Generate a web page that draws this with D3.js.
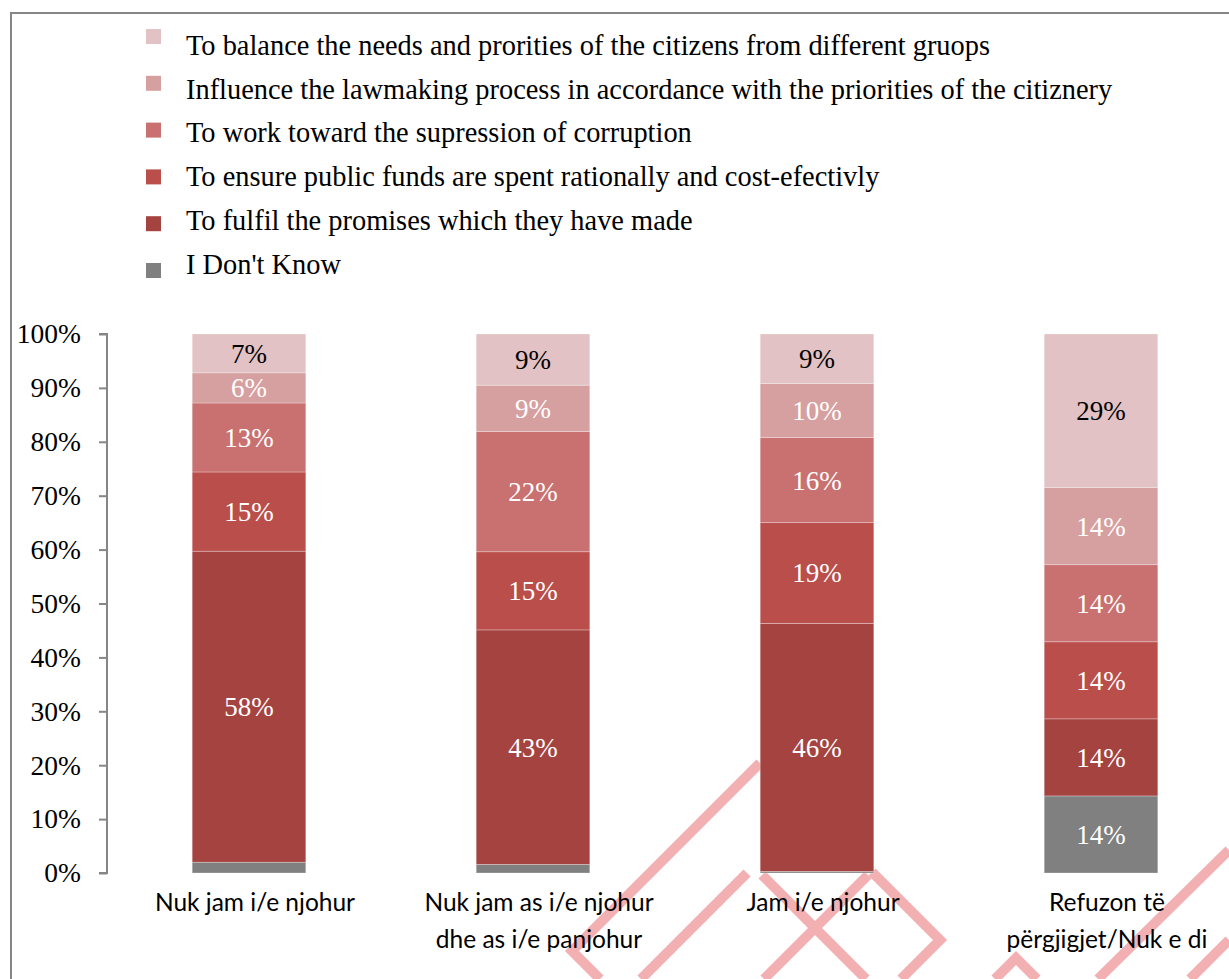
<!DOCTYPE html>
<html>
<head>
<meta charset="utf-8">
<script src="https://cdn.jsdelivr.net/npm/d3@7"></script>
<style>
  html, body { margin: 0; padding: 0; background: #fff; }
  svg { display: block; }
</style>
</head>
<body>
<svg id="chart" width="1229" height="979"></svg>
<script>
// ---------- data ----------
const categories = ["Nuk jam i/e njohur", "Nuk jam as i/e njohur dhe as i/e panjohur", "Jam i/e njohur", "Refuzon të përgjigjet/Nuk e di"];
const categoryLines = [["Nuk jam i/e njohur"], ["Nuk jam as i/e njohur", "dhe as i/e panjohur"], ["Jam i/e njohur"], ["Refuzon të", "përgjigjet/Nuk e di"]];

const seriesNames = [
  "I Don't Know",
  "To fulfil the promises which they have made",
  "To ensure public funds are spent rationally and cost-efectivly",
  "To work toward the supression of corruption",
  "Influence the lawmaking process in accordance with the priorities of the citiznery",
  "To balance the needs and prorities of the citizens from different gruops"
];
const dontKnow   = [2.0, 1.6, 0.3, 14.3];
const fulfil     = [57.7, 43.5, 46.0, 14.3];
const funds      = [14.7, 14.5, 18.7, 14.3];
const corruption = [12.8, 22.3, 15.8, 14.3];
const lawmaking  = [5.6, 8.6, 10.0, 14.3];
const balance    = [7.2, 9.5, 9.2, 28.5];

const dontKnowLabels   = ["", "", "", "14%"];
const fulfilLabels     = ["58%", "43%", "46%", "14%"];
const fundsLabels      = ["15%", "15%", "19%", "14%"];
const corruptionLabels = ["13%", "22%", "16%", "14%"];
const lawmakingLabels  = ["6%", "9%", "10%", "14%"];
const balanceLabels    = ["7%", "9%", "9%", "29%"];

const yTicks = [0, 10, 20, 30, 40, 50, 60, 70, 80, 90, 100];
const colors = ["#808080", "#A54341", "#B94E4B", "#C87170", "#D7A0A0", "#E2C2C4"];
const labelColors = ["#fff", "#fff", "#fff", "#fff", "#fff", "#000"];

// watermark (decorative background pattern)
const watermark = [
  [[600,979],[572,951],[760,763]],
  [[641,979],[747,873]],
  [[762,875],[866,979]],
  [[868,875],[764,979]],
  [[872,872],[940,940],[901,979]],
  [[995,979],[1016,958],[1037,979]],
  [[1098,979],[1229,850]],
  [[1190,979],[1229,940]]
];

// ---------- build ----------
const allSeries = [dontKnow, fulfil, funds, corruption, lawmaking, balance];
const allLabels = [dontKnowLabels, fulfilLabels, fundsLabels, corruptionLabels, lawmakingLabels, balanceLabels];
const keys = seriesNames;
const table = categories.map((c, i) => {
  const row = { category: c };
  keys.forEach((k, j) => row[k] = allSeries[j][i]);
  return row;
});
const stacked = d3.stack().keys(keys)(table);

const svg = d3.select("#chart");
const serif = "'Liberation Serif', 'Times New Roman', serif";
const sans = "Lato, 'Open Sans', sans-serif";

// watermark behind everything
svg.append("g").selectAll("polyline").data(watermark).join("polyline")
  .attr("points", d => d.map(p => p.join(",")).join(" "))
  .attr("fill", "none").attr("stroke", "#F3B0B2").attr("stroke-width", 10)
  .attr("stroke-linejoin", "miter").attr("stroke-linecap", "butt");

// outer border
svg.append("rect").attr("x", 11).attr("y", 13).attr("width", 1240).attr("height", 1000)
  .attr("fill", "none").attr("stroke", "#868686").attr("stroke-width", 2);

const x = d3.scaleBand().domain(categories).range([107, 1243]).paddingInner(0.6).paddingOuter(0.3);
const y = d3.scaleLinear().domain([0, 100]).range([873, 334]);

// y axis
const yAxis = svg.append("g").attr("transform", "translate(107,0)")
  .call(d3.axisLeft(y).tickValues(yTicks).tickFormat(d => d + "%").tickSize(8).tickPadding(18));
yAxis.select(".domain").attr("stroke", "#868686").attr("stroke-width", 2).attr("d", `M-8,${y(100)}H0V${y(0)}H-8`);
yAxis.selectAll(".tick line").attr("stroke", "#868686").attr("stroke-width", 2);
yAxis.selectAll(".tick text").attr("font-family", serif).attr("font-size", 27.5).attr("fill", "#000");

// bars
const layers = svg.append("g").selectAll("g").data(stacked).join("g")
  .attr("fill", (d, i) => colors[i]);
layers.selectAll("rect").data(d => d).join("rect")
  .attr("x", d => x(d.data.category))
  .attr("width", x.bandwidth())
  .attr("y", d => y(d[1]))
  .attr("height", d => y(d[0]) - y(d[1]))
  .attr("stroke", "rgba(255,255,255,0.35)").attr("stroke-width", 0.8);

// value labels
stacked.forEach((s, i) => {
  svg.append("g").selectAll("text").data(s).join("text")
    .attr("x", d => x(d.data.category) + x.bandwidth() / 2)
    .attr("y", d => (y(d[0]) + y(d[1])) / 2)
    .attr("dy", "0.35em")
    .attr("text-anchor", "middle")
    .attr("font-family", serif).attr("font-size", 27)
    .attr("fill", labelColors[i])
    .text((d, j) => allLabels[i][j]);
});

// category labels
const catG = svg.append("g").selectAll("text").data(categories).join("text")
  .attr("x", d => x(d) + x.bandwidth() / 2 + 6)
  .attr("y", 911)
  .attr("text-anchor", "middle")
  .attr("font-family", sans).attr("font-size", 24.5).attr("fill", "#000");
catG.each(function(d, i) {
  d3.select(this).selectAll("tspan").data(categoryLines[i]).join("tspan")
    .attr("x", x(d) + x.bandwidth() / 2 + 6)
    .attr("dy", (t, k) => k === 0 ? 0 : 37)
    .text(t => t);
});

// legend (top = last series)
const legendOrder = d3.range(seriesNames.length).reverse();
const leg = svg.append("g").selectAll("g").data(legendOrder).join("g");
leg.append("rect")
  .attr("x", 146).attr("y", (d, r) => 29 + r * 46.8)
  .attr("width", 15).attr("height", 15)
  .attr("fill", d => colors[d]);
leg.append("text")
  .attr("x", 186).attr("y", (d, r) => 55 + r * 43.7)
  .attr("font-family", serif).attr("font-size", 28.4).attr("fill", "#000")
  .text(d => seriesNames[d]);
</script>
</body>
</html>
